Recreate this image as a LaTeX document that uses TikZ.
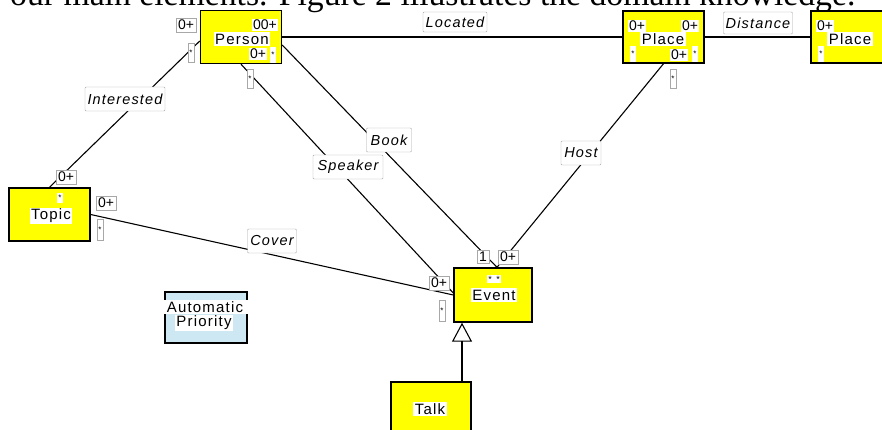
\documentclass[tikz,border=0pt]{standalone}
\usepackage{fontspec}
\setmainfont{Liberation Serif}
\newfontfamily\lab[LetterSpace=8]{Liberation Sans}
\newfontfamily\labn{Liberation Sans}
\usetikzlibrary{arrows.meta}
\definecolor{clsy}{HTML}{FFFF00}
\definecolor{prio}{HTML}{CDE8F2}
\definecolor{lbord}{HTML}{A8A8A8}
\begin{document}
\begin{tikzpicture}[x=1pt,y=-1pt,
  cls/.style={draw=black,line width=1.4pt,fill=clsy,inner sep=0pt},
  conn/.style={line width=1.1pt,draw=black},
  role/.style={draw=lbord,fill=white,inner sep=1pt,rounded corners=1pt,
    font=\lab\itshape\fontsize{14.5}{15}\selectfont},
  mult/.style={draw=lbord,fill=white,inner sep=1.8pt,
    font=\labn\fontsize{14}{14}\selectfont},
  imult/.style={fill=white,inner sep=1pt,font=\labn\fontsize{14}{14}\selectfont},
  star/.style={draw=lbord,fill=white,inner sep=0pt,minimum width=6pt,minimum height=19pt,
    font=\labn\fontsize{8}{8}\selectfont},
  istar/.style={fill=white,inner sep=0pt,minimum width=6pt,minimum height=16pt,
    font=\labn\fontsize{8}{8}\selectfont},
  nm/.style={fill=white,inner sep=1.5pt,font=\lab\fontsize{15}{15}\selectfont}]
\useasboundingbox (0,0) rectangle (882,430);
\clip (0,0) rectangle (882,430);

% intro text (cut at top)
\node[anchor=base west,inner sep=0pt,font=\fontsize{33.7}{40}\selectfont] (intro) at (10,6)
  {our main elements. Figure 2 illustrates the domain knowledge.};

% classes
\node[cls,minimum width=81pt,minimum height=53pt] (person) at (241,37) {};
\node[cls,minimum width=81pt,minimum height=52pt] (place1) at (663.5,37) {};
\node[cls,minimum width=81pt,minimum height=52pt] (place2) at (851.5,37) {};
\node[cls,minimum width=81pt,minimum height=53pt] (topic) at (49.5,214.5) {};
\node[cls,minimum width=78pt,minimum height=54pt] (event) at (493,295) {};
\node[cls,minimum width=80pt,minimum height=53pt] (talk) at (431,408.5) {};
\node[draw=black,line width=1.2pt,fill=prio,minimum width=82pt,minimum height=51pt,inner sep=0pt] (prio) at (206,317.5) {};

% connectors
\draw[conn] (person.east) -- (place1.west);
\draw[conn] (place1.east) -- (place2.west);
\draw[conn] ([yshift=-4pt]person.west) -- (topic.north);
\draw[conn] (person.south) -- ([yshift=2pt]event.west);
\draw[conn] ([yshift=-8pt]person.east) -- ([xshift=4pt]event.north);
\draw[conn] (place1.south) -- ([xshift=4pt]event.north);
\draw[conn] (topic.east) -- (event.west);
\draw[conn,-{Triangle[open,width=20pt,length=19pt,line width=1.1pt]}]
  ([xshift=31pt]talk.north) -- ([xshift=-31pt]event.south);

% role labels
\node[role,minimum width=64pt,minimum height=20pt] (rLocated) at (455,22) {Located};
\node[role,minimum width=69pt,minimum height=22pt] (rDistance) at (758,23) {Distance};
\node[role,minimum width=80pt,minimum height=24pt] (rInterested) at (125,99) {Interested};
\node[role,minimum width=45pt,minimum height=24pt] (rBook) at (389,140) {Book};
\node[role,minimum width=70pt,minimum height=24pt] (rSpeaker) at (348,167) {Speaker};
\node[role,minimum width=40pt,minimum height=24pt] (rHost) at (581,153) {Host};
\node[role,minimum width=49pt,minimum height=24pt] (rCover) at (272,241) {Cover};

% Person
\node[nm] (tPerson) at (242,39) {Person};
\node[imult] (pm1) at (265,25) {00+};
\node[imult] (pm2) at (258,54) {0+};
\node[istar] (ps1) at (273,55) {*};
\node[mult] (pm3) at (186,25) {0+};
\node[star] (ps2) at (191,53) {*};
\node[star] (ps3) at (250,79) {*};

% Place 1
\node[nm] (tPlace1) at (663,39) {Place};
\node[imult] (lm1) at (637,26) {0+};
\node[imult] (lm2) at (690,26) {0+};
\node[istar] (ls1) at (633,54) {*};
\node[imult] (lm3) at (679,55) {0+};
\node[istar] (ls2) at (695,54) {*};
\node[star] (ls3) at (673,79) {*};

% Place 2
\node[nm] (tPlace2) at (850,39) {Place};
\node[imult] (qm1) at (825,26) {0+};
\node[istar] (qs1) at (821,54) {*};

% Topic
\node[nm] (tTopic) at (51,216) {Topic};
\node[istar,minimum height=10pt] (ts1) at (60,198) {*};
\node[mult] (tm1) at (66,177) {0+};
\node[mult] (tm2) at (106,203) {0+};
\node[star,minimum height=21pt] (ts2) at (100,230) {*};

% Event
\node[nm] (tEvent) at (494,295) {Event};
\node[imult,font=\labn\fontsize{9}{9}\selectfont] (es0) at (494,279) {*\,\,\,*};
\node[mult] (em1) at (483,257) {1};
\node[mult] (em2) at (508,257) {0+};
\node[mult] (em3) at (439,283) {0+};
\node[star,minimum height=21pt] (es1) at (442,311) {*};

% Talk
\node[nm] (tTalk) at (430,409) {Talk};

% Automatic Priority
\node[nm,minimum width=88pt] (tAuto) at (205,307) {Automatic};
\node[nm] (tPrio) at (204,323) {Priority};
\end{tikzpicture}
\end{document}
